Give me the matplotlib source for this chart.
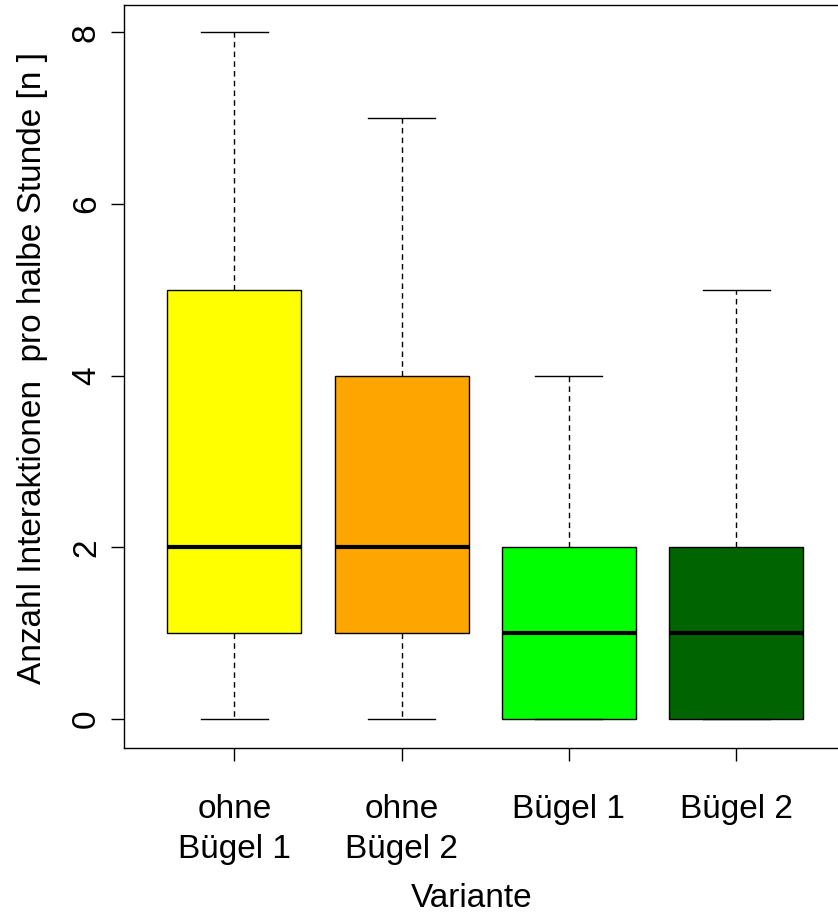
import matplotlib.pyplot as plt

plt.rcParams['font.family'] = ['Liberation Sans', 'DejaVu Sans']

labels = ["ohne\nBügel 1", "ohne\nBügel 2", "Bügel 1", "Bügel 2"]
whislo = [0, 0, 0, 0]
q1 = [1, 1, 0, 0]
med = [2, 2, 1, 1]
q3 = [5, 4, 2, 2]
whishi = [8, 7, 4, 5]
colors = ["#FFFF00", "#FFA500", "#00FF00", "#006400"]

stats = []
for i in range(len(labels)):
    stats.append({"whislo": whislo[i], "q1": q1[i], "med": med[i],
                  "q3": q3[i], "whishi": whishi[i], "fliers": []})

W, H = 838, 916
fig = plt.figure(figsize=(W / 100, H / 100), dpi=100)
# plot region in pixels (right edge runs past the image, as in the original)
left, right, top, bottom = 123.5, 847.0, 5.0, 748.0
ax = fig.add_axes([left / W, 1 - bottom / H, (right - left) / W, (bottom - top) / H])

bp = ax.bxp(stats, positions=[1, 2, 3, 4], widths=0.8, patch_artist=True,
            showfliers=False,
            boxprops=dict(edgecolor="black", linewidth=1),
            medianprops=dict(color="black", linewidth=3, solid_capstyle="butt"),
            whiskerprops=dict(color="black", linewidth=1, linestyle=(0, (4, 3))),
            capprops=dict(color="black", linewidth=1),
            capwidths=0.4)
for patch, c in zip(bp["boxes"], colors):
    patch.set_facecolor(c)

ax.set_xlim(0.338, 4.662)
ax.set_ylim(-0.338, 8.318)
ax.set_yticks([0, 2, 4, 6, 8])
ax.set_xticks([1, 2, 3, 4])
ax.set_xticklabels(labels, fontsize=24, linespacing=1.38)
ax.tick_params(axis="both", length=9.5, width=1, labelsize=24)
ax.tick_params(axis="y", pad=6)
ax.tick_params(axis="x", pad=23.5)
for t in ax.get_yticklabels():
    t.set_rotation(90)
    t.set_va("center")
for s in ax.spines.values():
    s.set_linewidth(1)

fig.text(471.5 / W, 1 - 907 / H, "Variante", fontsize=24,
         ha="center", va="baseline")
fig.text(33 / W, 1 - 368.5 / H, "Anzahl Interaktionen  pro halbe Stunde [n ]",
         fontsize=24, rotation=90, ha="center", va="center")

plt.savefig("out.png", dpi=100)
